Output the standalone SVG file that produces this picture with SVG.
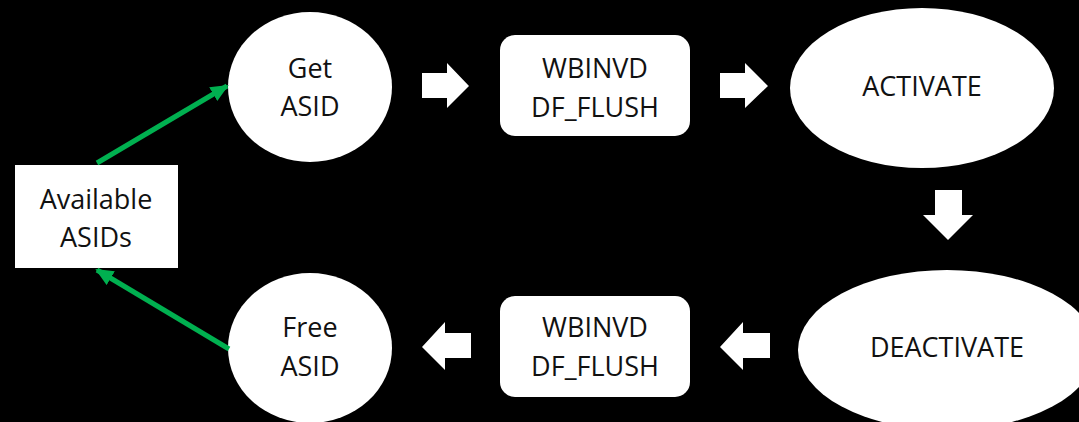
<svg xmlns="http://www.w3.org/2000/svg" width="1079" height="422" viewBox="0 0 1079 422">
  <defs>
    <style>
      .shape { fill: #ffffff; }
      .label { font-family: "Open Sans", "Noto Sans", "Liberation Sans", sans-serif; font-size: 27px; fill: #111111; text-anchor: middle; }
      .flow { fill: #ffffff; }
      .link { stroke: #00b050; stroke-width: 5; fill: none; }
    </style>
    <marker id="greenHead" markerUnits="userSpaceOnUse" markerWidth="20" markerHeight="20" refX="16" refY="8" orient="auto">
      <path d="M0,0 L18,8 L0,16 Z" fill="#00b050"/>
    </marker>
  </defs>

  <rect width="1079" height="422" fill="#000000"/>

  <g id="available-asids">
    <rect class="shape" x="15" y="165" width="163" height="103"/>
    <text class="label" x="96" y="209">Available</text>
    <text class="label" x="96" y="247">ASIDs</text>
  </g>

  <g id="get-asid">
    <ellipse class="shape" cx="310" cy="87" rx="82" ry="75"/>
    <text class="label" x="310" y="78">Get</text>
    <text class="label" x="310" y="116">ASID</text>
  </g>

  <g id="flush-top">
    <rect class="shape" x="500" y="35" width="190" height="101" rx="15"/>
    <text class="label" x="595" y="78">WBINVD</text>
    <text class="label" x="595" y="117">DF_FLUSH</text>
  </g>

  <g id="activate">
    <ellipse class="shape" cx="922" cy="88" rx="132" ry="80"/>
    <text class="label" x="922" y="96">ACTIVATE</text>
  </g>

  <g id="deactivate">
    <ellipse class="shape" cx="947" cy="350" rx="149" ry="80"/>
    <text class="label" x="947" y="357">DEACTIVATE</text>
  </g>

  <g id="flush-bottom">
    <rect class="shape" x="500" y="296" width="190" height="101" rx="15"/>
    <text class="label" x="595" y="337">WBINVD</text>
    <text class="label" x="595" y="376">DF_FLUSH</text>
  </g>

  <g id="free-asid">
    <ellipse class="shape" cx="310" cy="348" rx="82" ry="75"/>
    <text class="label" x="310" y="337">Free</text>
    <text class="label" x="310" y="376">ASID</text>
  </g>

  <g id="connectors">
    <!-- block arrows along the cycle -->
    <polygon class="flow" points="422,73 447,73 447,63 469,86 447,108 447,98 422,98"/>
    <polygon class="flow" points="720,73 745,73 745,63 768,86 745,108 745,98 720,98"/>
    <polygon class="flow" points="935,190 962,190 962,215 973,215 948,240 923,215 935,215"/>
    <polygon class="flow" points="770,333 743,333 743,322 720,347 743,370 743,358 770,358"/>
    <polygon class="flow" points="471,333 445,333 445,322 422,347 445,370 445,358 471,358"/>
    <!-- ASID pool links -->
    <line class="link" x1="97" y1="163" x2="227" y2="86" marker-end="url(#greenHead)"/>
    <line class="link" x1="229" y1="349" x2="97" y2="270" marker-end="url(#greenHead)"/>
  </g>
</svg>
